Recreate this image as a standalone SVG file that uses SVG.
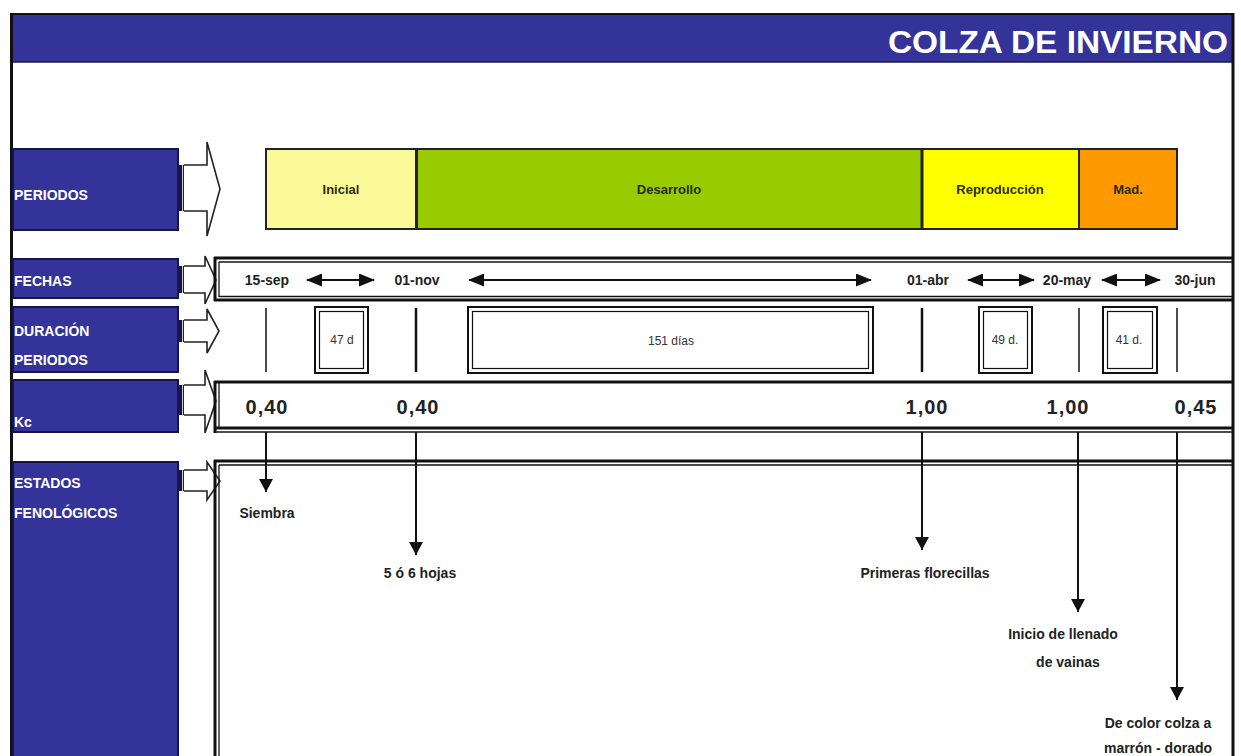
<svg xmlns="http://www.w3.org/2000/svg" width="1241" height="756" viewBox="0 0 1241 756">
<style>
.lbl{font-family:"Liberation Sans",Arial,sans-serif;font-weight:bold;font-size:14px;fill:#ffffff}
.lbox{fill:#333399;stroke:#15154a;stroke-width:2}
.blk{fill:#ffffff;stroke:#222;stroke-width:1.6}
.bar{fill:#15154a}
.per{font-family:"Liberation Sans",Arial,sans-serif;font-weight:bold;font-size:13px;fill:#2a2a10;text-anchor:middle}
.fe{font-family:"Liberation Sans",Arial,sans-serif;font-weight:bold;font-size:14px;fill:#222;text-anchor:middle}
.kc{font-family:"Liberation Sans",Arial,sans-serif;font-weight:bold;font-size:20px;letter-spacing:1px;fill:#222;text-anchor:middle}
.du{font-family:"Liberation Sans",Arial,sans-serif;font-size:12px;fill:#333;text-anchor:middle}
.es{font-family:"Liberation Sans",Arial,sans-serif;font-weight:bold;font-size:14px;fill:#222;text-anchor:middle}
.thick{stroke:#111;stroke-width:3;fill:none}
.thin{stroke:#111;stroke-width:1.3;fill:none}
.conn{stroke:#111;stroke-width:2;fill:none}
</style>
<defs>
<marker id="dh" markerUnits="userSpaceOnUse" markerWidth="16" markerHeight="13" viewBox="0 0 16 13" refX="15" refY="6.5" orient="auto-start-reverse">
<path d="M0,0 L16,6.5 L0,13 Z" fill="#111"/>
</marker>
<marker id="vh" markerUnits="userSpaceOnUse" markerWidth="14" markerHeight="13" viewBox="0 0 14 13" refX="7" refY="13" orient="0">
<path d="M0,0 L14,0 L7,13 Z" fill="#111"/>
</marker>
</defs>
<rect x="0" y="0" width="1241" height="756" fill="#ffffff"/>
<g id="header">
<rect x="12" y="15" width="1221" height="47" fill="#333399"/>
<line x1="11" y1="14" x2="1234" y2="14" stroke="#111" stroke-width="2"/>
<line x1="12" y1="62" x2="1233" y2="62" stroke="#1a1a50" stroke-width="1.5"/>
<line x1="11.5" y1="13" x2="11.5" y2="756" stroke="#111" stroke-width="3"/>
<line x1="1233" y1="13" x2="1233" y2="756" stroke="#111" stroke-width="3"/>
<text x="1228" y="53" text-anchor="end" font-family="'Liberation Sans',Arial,sans-serif" font-weight="bold" font-size="31" fill="#ffffff" textLength="340" lengthAdjust="spacingAndGlyphs">COLZA DE INVIERNO</text>
</g>
<g id="lab-periodos">
<rect class="lbox" x="13" y="149" width="165" height="81"/>
<text class="lbl" x="14" y="200">PERIODOS</text>
</g>
<g id="lab-fechas">
<rect class="lbox" x="13" y="259" width="165" height="39"/>
<text class="lbl" x="14" y="286">FECHAS</text>
</g>
<g id="lab-duracion">
<rect class="lbox" x="13" y="307" width="165" height="65"/>
<text class="lbl" x="14" y="336">DURACIÓN</text>
<text class="lbl" x="14" y="365">PERIODOS</text>
</g>
<g id="lab-kc">
<rect class="lbox" x="13" y="380" width="165" height="52"/>
<text class="lbl" x="14" y="427">Kc</text>
</g>
<g id="lab-estados">
<rect class="lbox" x="13" y="462" width="165" height="300"/>
<text class="lbl" x="14" y="488">ESTADOS</text>
<text class="lbl" x="14" y="518">FENOLÓGICOS</text>
</g>
<g id="block-arrows">
<rect class="bar" x="178" y="165" width="4" height="46"/>
<line x1="183.5" y1="165" x2="183.5" y2="211" stroke="#222" stroke-width="1.5"/>
<path class="blk" d="M184,165 H207 V142 L220,189 L207,236 V211 H184"/>
<rect class="bar" x="178" y="266" width="4" height="27"/>
<line x1="183.5" y1="266" x2="183.5" y2="293" stroke="#222" stroke-width="1.5"/>
<path class="blk" d="M184,266 H205 V256 L216,280 L205,304 V293 H184"/>
<rect class="bar" x="178" y="320" width="4" height="22"/>
<line x1="183.5" y1="320" x2="183.5" y2="342" stroke="#222" stroke-width="1.5"/>
<path class="blk" d="M184,320 H207 V309 L219,331 L207,353 V342 H184"/>
<rect class="bar" x="178" y="385" width="4" height="30"/>
<line x1="183.5" y1="385" x2="183.5" y2="415" stroke="#222" stroke-width="1.5"/>
<path class="blk" d="M184,385 H205 V370 L216,401 L205,433 V415 H184"/>
<rect class="bar" x="178" y="470" width="4" height="21"/>
<line x1="183.5" y1="470" x2="183.5" y2="491" stroke="#222" stroke-width="1.5"/>
<path class="blk" d="M184,470 H207 V462 L220,481 L207,500 V491 H184"/>
</g>
<g id="periodos-bar">
<rect x="266" y="149" width="150" height="80" fill="#FAFA99"/>
<rect x="416" y="149" width="506" height="80" fill="#99CC00"/>
<rect x="922" y="149" width="157" height="80" fill="#FFFF00"/>
<rect x="1079" y="149" width="98" height="80" fill="#FF9900"/>
<rect x="266" y="149" width="911" height="80" fill="none" stroke="#222" stroke-width="2"/>
<line x1="416.5" y1="149" x2="416.5" y2="229" stroke="#222" stroke-width="3"/>
<line x1="922" y1="149" x2="922" y2="229" stroke="#222" stroke-width="3"/>
<line x1="1079" y1="149" x2="1079" y2="229" stroke="#222" stroke-width="2"/>
<text class="per" x="341" y="194">Inicial</text>
<text class="per" x="669" y="194">Desarrollo</text>
<text class="per" x="1000" y="194">Reproducción</text>
<text class="per" x="1128" y="194">Mad.</text>
</g>
<g id="fechas">
<line class="thick" x1="214" y1="258" x2="1233" y2="258"/>
<line class="thin" x1="219" y1="262" x2="1233" y2="262"/>
<line class="thin" x1="219" y1="296.5" x2="1233" y2="296.5"/>
<line class="thick" x1="214" y1="300" x2="1233" y2="300"/>
<line class="thick" x1="215" y1="257" x2="215" y2="301"/>
<line class="thin" x1="219" y1="262" x2="219" y2="297"/>
<text class="fe" x="267" y="285">15-sep</text>
<text class="fe" x="417" y="285">01-nov</text>
<text class="fe" x="928" y="285">01-abr</text>
<text class="fe" x="1067" y="285">20-may</text>
<text class="fe" x="1195" y="285">30-jun</text>
</g>
<g id="connectors">
<line class="conn" x1="307" y1="280" x2="374" y2="280" marker-start="url(#dh)" marker-end="url(#dh)"/>
<line class="conn" x1="469" y1="280" x2="871" y2="280" marker-start="url(#dh)" marker-end="url(#dh)"/>
<line class="conn" x1="968" y1="280" x2="1034" y2="280" marker-start="url(#dh)" marker-end="url(#dh)"/>
<line class="conn" x1="1102" y1="280" x2="1160" y2="280" marker-start="url(#dh)" marker-end="url(#dh)"/>
<line class="conn" x1="266" y1="432" x2="266" y2="492" marker-end="url(#vh)"/>
<line class="conn" x1="416" y1="432" x2="416" y2="555" stroke-width="2.5" marker-end="url(#vh)"/>
<line class="conn" x1="922" y1="432" x2="922" y2="550" stroke-width="2.5" marker-end="url(#vh)"/>
<line class="conn" x1="1078" y1="432" x2="1078" y2="612" marker-end="url(#vh)"/>
<line class="conn" x1="1177" y1="432" x2="1177" y2="700" marker-end="url(#vh)"/>
</g>
<g id="duracion">
<line x1="266" y1="308" x2="266" y2="372" stroke="#111" stroke-width="1.5"/>
<line x1="416" y1="308" x2="416" y2="372" stroke="#111" stroke-width="2.5"/>
<line x1="922" y1="308" x2="922" y2="372" stroke="#111" stroke-width="2.5"/>
<line x1="1079" y1="308" x2="1079" y2="372" stroke="#111" stroke-width="1.5"/>
<line x1="1177" y1="308" x2="1177" y2="372" stroke="#111" stroke-width="1.5"/>
<rect x="315" y="307" width="53" height="66" fill="none" stroke="#111" stroke-width="2"/>
<rect x="319.5" y="311.5" width="44" height="57" fill="none" stroke="#111" stroke-width="1.2"/>
<text class="du" x="342" y="344">47 d</text>
<rect x="468" y="307" width="405" height="66" fill="none" stroke="#111" stroke-width="2"/>
<rect x="472.5" y="311.5" width="396" height="57" fill="none" stroke="#111" stroke-width="1.2"/>
<text class="du" x="671" y="345">151 días</text>
<rect x="979" y="307" width="53" height="66" fill="none" stroke="#111" stroke-width="2"/>
<rect x="983.5" y="311.5" width="44" height="57" fill="none" stroke="#111" stroke-width="1.2"/>
<text class="du" x="1005" y="344">49 d.</text>
<rect x="1103" y="307" width="54" height="66" fill="none" stroke="#111" stroke-width="2"/>
<rect x="1107.5" y="311.5" width="45" height="57" fill="none" stroke="#111" stroke-width="1.2"/>
<text class="du" x="1129" y="344">41 d.</text>
</g>
<g id="kc">
<line class="thick" x1="214" y1="382" x2="1233" y2="382"/>
<line class="thick" x1="214" y1="428" x2="1233" y2="428"/>
<line class="thin" x1="214" y1="432" x2="1233" y2="432"/>
<line class="thick" x1="215" y1="381" x2="215" y2="433"/>
<line class="thin" x1="219" y1="383" x2="219" y2="428"/>
<text class="kc" x="267" y="414">0,40</text>
<text class="kc" x="418" y="414">0,40</text>
<text class="kc" x="927" y="414">1,00</text>
<text class="kc" x="1068" y="414">1,00</text>
<text class="kc" x="1196" y="414">0,45</text>
</g>
<g id="estados">
<line class="thick" x1="214" y1="461" x2="1233" y2="461"/>
<line class="thin" x1="219" y1="465" x2="1233" y2="465"/>
<line class="thick" x1="215" y1="460" x2="215" y2="756"/>
<line class="thin" x1="219" y1="465" x2="219" y2="756"/>
<text class="es" x="267" y="518">Siembra</text>
<text class="es" x="420" y="578">5 ó 6 hojas</text>
<text class="es" x="925" y="578">Primeras florecillas</text>
<text class="es" x="1063" y="639">Inicio de llenado</text>
<text class="es" x="1068" y="667">de vainas</text>
<text class="es" x="1158" y="728">De color colza a</text>
<text class="es" x="1158" y="753">marrón - dorado</text>
</g>
</svg>
